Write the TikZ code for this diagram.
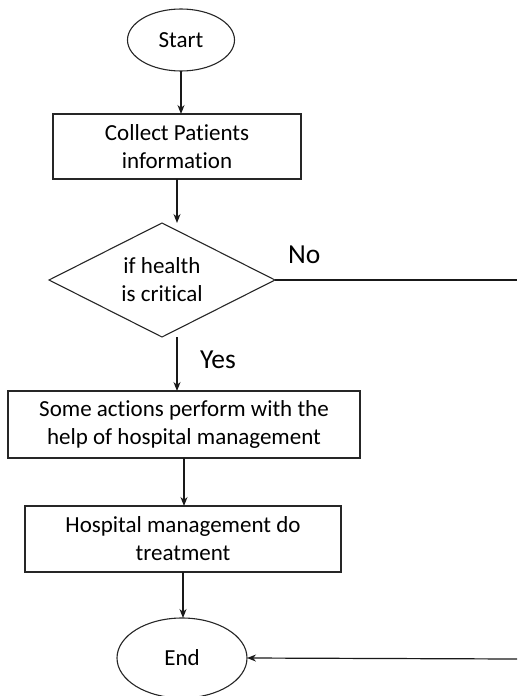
\documentclass[tikz,border=0pt]{standalone}
\usepackage{fontspec}
\setmainfont{Carlito}[Ligatures=NoCommon]
\usetikzlibrary{shapes.geometric,arrows.meta}
\begin{document}
\begin{tikzpicture}[x=1pt,y=-1pt,
  every node/.style={inner sep=0pt,outer sep=0pt,align=center,text=black},
  boxtext/.style={font=\fontsize{23}{28}\selectfont},
  procbox/.style={boxtext,draw=black!85,line width=1.3pt,rectangle},
  termnode/.style={boxtext,draw=black!85,line width=1.1pt,ellipse},
  decnode/.style={boxtext,draw=black!85,line width=1.1pt,diamond,aspect=2},
  lbl/.style={font=\fontsize{27.5}{32}\selectfont},
  arr/.style={line width=1.2pt,draw=black!90,-{Stealth[length=9pt,width=7pt]}},
  plain/.style={line width=1.2pt,draw=black!90}]
\useasboundingbox (0,0) rectangle (517,696);
\node[termnode,minimum width=107pt,minimum height=62pt] (start) at (181,40) {Start};
\node[procbox,minimum width=248pt,minimum height=65pt] (box1) at (177,146.5) {Collect Patients\\information};
\node[decnode,minimum width=226pt,minimum height=114pt] (dia) at (162,280) {if health\\is critical};
\node[procbox,minimum width=352pt,minimum height=67pt] (box2) at (184,424.5) {Some actions perform with the\\help of hospital management};
\node[procbox,minimum width=316pt,minimum height=66pt] (box3) at (183,539) {Hospital management do\\treatment};
\node[termnode,minimum width=130pt,minimum height=80pt] (end) at (182,658) {End};
\node[lbl,anchor=west] (no) at (288,255) {No};
\node[lbl,anchor=west] (yes) at (200,360) {Yes};
\coordinate (noend) at (517,280);
\coordinate (endin) at (517,659);
\draw[arr] (start.south) -- (start.south |- box1.north);
\draw[arr] (box1.south) -- (box1.south |- dia.north);
\draw[arr] (box1.south |- dia.south) -- (box1.south |- box2.north);
\draw[arr] (box2.south) -- (box2.south |- box3.north);
\draw[arr] (box3.south) -- (box3.south |- end.north);
\draw[plain] (dia.east) -- (noend);
\draw[arr] (endin) -- (end.east);
\end{tikzpicture}
\end{document}
